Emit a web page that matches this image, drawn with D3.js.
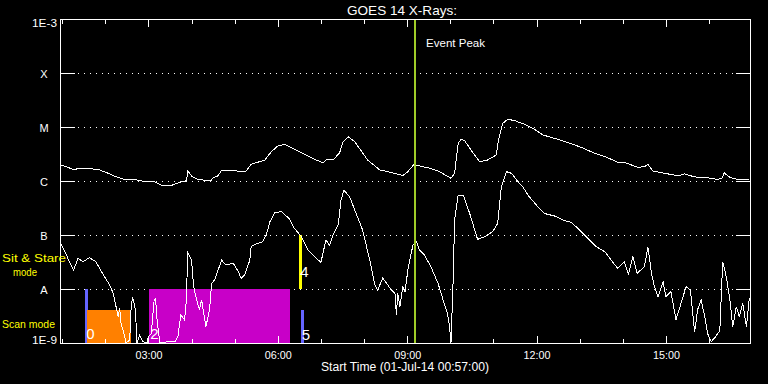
<!DOCTYPE html>
<html><head><meta charset="utf-8">
<script src="https://cdn.jsdelivr.net/npm/d3@7"></script>
<style>
html,body{margin:0;padding:0;background:#000;}
svg{display:block;}
text{font-family:"Liberation Sans",Arial,sans-serif;}
</style></head><body>
<script>
// ---------------- data ----------------
const chartTitle = "GOES 14 X-Rays:";
const startLabel = "Start Time (01-Jul-14 00:57:00)";
const timeStart = "00:57", timeEnd = "16:57";
const levelValues = [1e-3, 1e-4, 1e-5, 1e-6, 1e-7, 1e-8, 1e-9];
const levelLabels = ["1E-3", "X", "M", "C", "B", "A", "1E-9"];
const hourTicks = ["01:00","02:00","03:00","04:00","05:00","06:00","07:00","08:00","09:00","10:00","11:00","12:00","13:00","14:00","15:00","16:00"];
const majorTicks = ["03:00","06:00","09:00","12:00","15:00"];
const peakTime = "09:11";
const peakLabel = "Event Peak";
const modeLabels = ["Sit & Stare", "mode", "Scan mode"];

// long channel (upper curve)
const longTimes = [
 "00:58","01:08","01:17","01:22","01:36","01:43","01:52","02:04","02:15","02:27",
 "02:41","02:55","03:06","03:13","03:18","03:32","03:46","03:53","03:55","04:00",
 "04:07","04:18","04:27","04:30","04:37","04:41","04:58","05:07","05:16","05:23",
 "05:32","05:42","05:51","06:00","06:09","06:16","06:33","06:51","07:03","07:07",
 "07:17","07:26","07:31","07:38","07:47","08:05","08:22","08:33","08:54","09:01",
 "09:09","09:17","09:29","09:43","09:54","10:01","10:06","10:11","10:15","10:20",
 "10:32","10:41","10:52","11:04","11:07","11:13","11:20","11:30","11:36","11:41",
 "11:55","12:09","12:25","12:44","13:02","13:21","13:39","13:53","14:03","14:12",
 "14:21","14:30","14:35","14:42","14:58","15:17","15:26","15:40","15:58","16:12",
 "16:18","16:21","16:29","16:36","16:56"];
const longFlux = [
 1.98e-6,1.79e-6,1.60e-6,1.72e-6,1.72e-6,1.67e-6,1.60e-6,1.39e-6,1.20e-6,1.07e-6,
 1.07e-6,0.97e-6,1.00e-6,0.91e-6,0.83e-6,0.83e-6,0.96e-6,1.01e-6,1.53e-6,1.24e-6,
 1.09e-6,1.03e-6,1.01e-6,1.15e-6,1.25e-6,1.53e-6,1.58e-6,1.49e-6,1.53e-6,2.04e-6,
 2.22e-6,2.45e-6,3.49e-6,4.45e-6,4.78e-6,4.35e-6,3.34e-6,2.52e-6,2.18e-6,2.45e-6,
 2.45e-6,3.34e-6,5.34e-6,6.62e-6,5.34e-6,2.45e-6,1.60e-6,1.49e-6,1.27e-6,1.49e-6,
 1.98e-6,1.90e-6,1.76e-6,1.53e-6,1.27e-6,1.12e-6,1.39e-6,4.99e-6,5.92e-6,5.57e-6,
 3.26e-6,2.28e-6,2.45e-6,3.03e-6,5.74e-6,1.17e-5,1.39e-5,1.31e-5,1.20e-5,1.17e-5,
 9.45e-6,7.11e-6,6.17e-6,5.12e-6,4.21e-6,3.26e-6,2.70e-6,2.22e-6,2.18e-6,1.98e-6,
 1.79e-6,1.84e-6,2.04e-6,1.53e-6,1.39e-6,1.25e-6,1.35e-6,1.19e-6,1.15e-6,1.07e-6,
 1.12e-6,1.42e-6,1.17e-6,1.09e-6,1.07e-6];

// short channel (lower curve)
const shortTimes = [
 "00:58","01:04","01:10","01:16","01:22","01:29","01:38","01:47","01:52","01:59",
 "02:06","02:11","02:15","02:18","02:20","02:22","02:26","02:29","02:34","02:36",
 "02:38","02:42","02:44","02:48","02:52","02:58","03:00","03:04","03:08","03:10",
 "03:12","03:16","03:27","03:37","03:41","03:45","03:50","03:52","03:55","04:00",
 "04:03","04:07","04:11","04:14","04:17","04:20","04:25","04:28","04:32","04:37",
 "04:42","04:48","04:58","05:05","05:09","05:14","05:21","05:23","05:32","05:39",
 "05:44","05:49","05:56","06:05","06:16","06:23","06:33","06:42","06:51","07:00",
 "07:07","07:12","07:17","07:24","07:28","07:32","07:40","07:49","07:58","08:08",
 "08:15","08:19","08:26","08:33","08:38","08:43","08:45","08:47","08:50","08:54",
 "08:57","09:01","09:08","09:13","09:17","09:24","09:33","09:43","09:50","09:56",
 "09:59","10:01","10:04","10:06","10:11","10:18","10:27","10:38","10:48","10:59",
 "11:06","11:11","11:18","11:25","11:36","11:41","11:48","12:02","12:11","12:25",
 "12:39","12:48","13:00","13:11","13:23","13:35","13:44","13:53","14:02","14:08",
 "14:14","14:20","14:30","14:35","14:40","14:44","14:49","14:56","15:00","15:07",
 "15:14","15:21","15:28","15:34","15:40","15:44","15:49","15:54","15:58","16:03",
 "16:09","16:15","16:19","16:24","16:29","16:33","16:38","16:42","16:47","16:52","16:56"];
const shortFlux = [
 6.8e-8,4.9e-8,3.2e-8,2.25e-8,3.7e-8,3.2e-8,3.8e-8,3.2e-8,2.42e-8,1.69e-8,
 1.19e-8,8.3e-9,4.7e-9,3.1e-9,4.4e-9,2.3e-9,1.5e-9,1e-9,1.14e-9,4.7e-9,
 7.2e-9,4.1e-9,1e-9,1.4e-9,1.06e-9,1e-9,1.3e-9,1.5e-9,6.3e-9,6.7e-9,
 2.7e-9,1e-9,1.06e-9,1.06e-9,1.3e-9,3.3e-9,2.7e-9,4.1e-9,4.6e-8,3.4e-8,
 1.1e-8,6.3e-9,4.1e-9,6.3e-9,3.5e-9,2.0e-9,4.1e-9,1.27e-8,1.47e-8,2.25e-8,
 3.4e-8,2.78e-8,3.0e-8,2.1e-8,1.58e-8,1.82e-8,3.4e-8,6.1e-8,7.0e-8,7.5e-8,
 1.0e-7,1.76e-7,2.6e-7,2.7e-7,2.0e-7,1.33e-7,9.3e-8,5.3e-8,4.0e-8,3.1e-8,
 8.1e-8,6.5e-8,1.0e-7,1.53e-7,4.4e-7,6.8e-7,5.1e-7,2.5e-7,1.24e-7,3.4e-8,
 1.19e-8,9.6e-9,1.58e-8,1.19e-8,9.6e-9,8.3e-9,3.3e-9,8.3e-9,4.7e-9,1.1e-8,
 8.9e-9,2.25e-8,6.5e-8,7.5e-8,5.3e-8,4.26e-8,2.59e-8,1.27e-8,6.3e-9,3.5e-9,
 2.0e-9,1e-9,1.47e-8,1.9e-7,5.5e-7,5.5e-7,2.5e-7,8.3e-8,9.3e-8,1.15e-7,
 1.65e-7,7.8e-7,1.49e-6,1.39e-6,9.1e-7,7.8e-7,5.5e-7,3.3e-7,2.5e-7,2.25e-7,
 1.84e-7,1.72e-7,1.24e-7,8.7e-8,6.1e-8,4.9e-8,3.4e-8,2.42e-8,3.2e-8,1.9e-8,
 4.0e-8,1.95e-8,2.59e-8,5.9e-8,1.95e-8,1.1e-8,7.2e-9,1.37e-8,7.2e-9,8.9e-9,
 2.7e-9,5.4e-9,1.1e-8,9.6e-9,1.6e-9,4.1e-9,6.3e-9,3.1e-9,1.5e-9,1.06e-9,
 1.3e-9,1.7e-9,3.2e-8,1.69e-8,6.3e-9,2.0e-9,4.7e-9,3.1e-9,5.4e-9,2.0e-9,6.7e-9];

// observation blocks
const blockLabels = ["0", "", "2", "4", "5"];
const blockStart  = ["01:32", "01:35", "03:01", "06:30", "06:32"];
const blockEnd    = ["01:36", "02:36", "06:17", "06:33", "06:37"];
const blockLow    = [1e-9, 1e-9, 1e-9, 1e-8, 1e-9];
const blockHigh   = [1e-8, 4.1e-9, 1e-8, 1e-7, 4.1e-9];
const blockLabelAt = [1.2e-9, null, 1.2e-9, 1.65e-8, 1.15e-9];

// ---------------- styles ----------------
const blockColors = ["#6464ff", "#ff8000", "#c800c8", "#ffff00", "#6464ff"];
const peakColor = "#a0cd28";
const modeColor = "#ffff00";

// ---------------- drawing ----------------
const parse = d3.timeParse("%H:%M");
const L = 60, R = 750, T = 19, B = 343;
const x = d3.scaleTime().domain([parse(timeStart), parse(timeEnd)]).range([L, R]);
const y = d3.scaleLog().domain([1e-9, 1e-3]).range([B, T]);
const px = v => Math.round(v) + 0.5;

const svg = d3.select("body").append("svg")
  .attr("width", 768).attr("height", 384)
  .style("background", "#000");

svg.append("defs").append("clipPath").attr("id", "clip")
  .append("rect").attr("x", L).attr("y", T).attr("width", R - L + 1).attr("height", B - T + 1);

function label(g, txt, xx, yy, size, fill, len, anchor) {
  const t = g.append("text").attr("x", xx).attr("y", yy)
    .attr("fill", fill).attr("font-size", size).text(txt);
  if (anchor) t.attr("text-anchor", anchor);
  if (len) t.attr("textLength", len).attr("lengthAdjust", "spacingAndGlyphs");
  return t;
}

// grid: dotted lines at inner levels
const inner = levelValues.filter(v => v < 1e-3 && v > 1e-9);
const grid = svg.append("g").attr("shape-rendering", "crispEdges").attr("stroke", "#fff");
grid.selectAll("line.dot").data(inner).join("line").attr("class", "dot")
  .attr("x1", 78).attr("x2", 736)
  .attr("y1", d => px(y(d))).attr("y2", d => px(y(d)))
  .attr("stroke-dasharray", "1,5");

// blocks
const blocks = blockLabels.map((lab, i) => ({
  lab, s: parse(blockStart[i]), e: parse(blockEnd[i]),
  lo: blockLow[i], hi: blockHigh[i], la: blockLabelAt[i], c: blockColors[i]
}));
svg.append("g").attr("shape-rendering", "crispEdges")
  .selectAll("rect").data(blocks).join("rect")
  .attr("x", d => Math.round(x(d.s)))
  .attr("width", d => Math.max(2, Math.round(x(d.e)) - Math.round(x(d.s))))
  .attr("y", d => Math.round(y(d.hi)))
  .attr("height", d => Math.round(y(d.lo)) - Math.round(y(d.hi)))
  .attr("fill", d => d.c);

// solid stubs at both ends
grid.selectAll("line.l").data(inner).join("line").attr("class", "l")
  .attr("x1", L).attr("x2", L + 15)
  .attr("y1", d => px(y(d))).attr("y2", d => px(y(d)));
grid.selectAll("line.r").data(inner).join("line").attr("class", "r")
  .attr("x1", R - 14).attr("x2", R)
  .attr("y1", d => px(y(d))).attr("y2", d => px(y(d)));

// curves
const line = d3.line()
  .x(d => x(d.t))
  .y(d => y(Math.max(d.v, 1e-9)));
const longData = longTimes.map((t, i) => ({ t: parse(t), v: longFlux[i] }));
const shortData = shortTimes.map((t, i) => ({ t: parse(t), v: shortFlux[i] }));
const curves = svg.append("g").attr("clip-path", "url(#clip)");
[longData, shortData].forEach(dd => {
  curves.append("path").datum(dd).attr("d", line)
    .attr("fill", "none").attr("stroke", "#fff").attr("stroke-width", 1)
    .attr("shape-rendering", "crispEdges");
});

// block labels
svg.append("g").selectAll("text").data(blocks.filter(d => d.lab))
  .join("text")
  .attr("x", d => x(d.s) + 1)
  .attr("y", d => y(d.la))
  .attr("fill", "#fff").attr("font-size", 15)
  .text(d => d.lab);

// event peak line
const pk = parse(peakTime);
svg.append("line")
  .attr("x1", Math.round(x(pk))).attr("x2", Math.round(x(pk)))
  .attr("y1", T).attr("y2", B)
  .attr("stroke", peakColor).attr("stroke-width", 2)
  .attr("shape-rendering", "crispEdges");
label(svg, peakLabel, x(pk) + 11, 47, 11.5, "#fff", 59);

// frame
const frame = svg.append("g").attr("shape-rendering", "crispEdges").attr("stroke", "#fff").attr("fill", "none");
frame.append("rect").attr("x", L + 0.5).attr("y", T + 0.5).attr("width", R - L).attr("height", B - T);

// time ticks (top & bottom)
const hrs = hourTicks.map(parse);
const fmt = d3.timeFormat("%H:%M");
const isMajor = d => majorTicks.includes(fmt(d));
frame.selectAll("line.tb").data(hrs).join("line").attr("class", "tb")
  .attr("x1", d => px(x(d))).attr("x2", d => px(x(d)))
  .attr("y1", B).attr("y2", d => B - (isMajor(d) ? 7 : 4));
frame.selectAll("line.tt").data(hrs).join("line").attr("class", "tt")
  .attr("x1", d => px(x(d))).attr("x2", d => px(x(d)))
  .attr("y1", T + 1).attr("y2", d => T + 1 + (isMajor(d) ? 7 : 4));

const tl = svg.append("g");
majorTicks.map(parse).forEach(d => label(tl, fmt(d), x(d) + 0.5, 358.5, 11, "#fff", 27, "middle"));

// y labels
const yl = svg.append("g");
levelValues.forEach((v, i) => {
  const lab = levelLabels[i];
  const yy = i === 0 ? y(v) + 8 : (i === levelValues.length - 1 ? y(v) + 0.5 : y(v) + 4.7);
  if (lab.length > 1) label(yl, lab, 57, yy, 11, "#fff", 25, "end");
  else label(yl, lab, 44, yy, 11, "#fff", null, "middle");
});

// mode labels
label(svg, modeLabels[0], 2, 262, 11, modeColor, 64);
label(svg, modeLabels[1], 13, 276, 11, modeColor, 24);
label(svg, modeLabels[2], 2, 328, 11, modeColor, 53);

// title and x label
label(svg, chartTitle, 402, 14.5, 13, "#fff", 110, "middle");
label(svg, startLabel, 405, 371, 12, "#fff", 168, "middle");
</script>
</body></html>
